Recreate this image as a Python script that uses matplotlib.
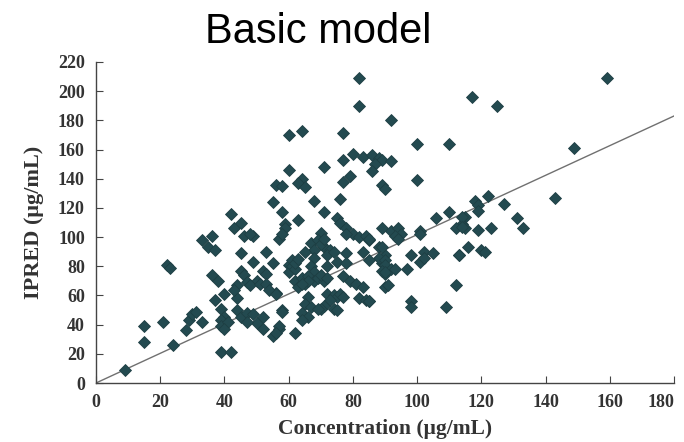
import numpy as np
import matplotlib.pyplot as plt

conc = [9, 15, 15, 21, 22, 23, 24, 28, 29, 30, 31, 33,
        33, 36, 35, 37, 36, 38, 37, 40, 39, 40, 39, 39, 41, 40, 39, 42,
        42, 43, 45, 46, 49, 48, 45, 49, 53, 55,
        45, 46, 44, 47, 50, 52, 53, 44, 43, 48, 51, 53,
        44, 45, 47, 49, 50, 52, 55, 57, 58, 56, 52, 47,
        56, 58, 55, 58, 59, 59, 57, 58, 63, 60, 60, 64, 64, 63, 65, 68, 71, 75, 76, 77, 77,
        71, 79, 77, 76, 80, 83, 86, 88, 89, 87, 92, 86, 82, 82, 92, 100, 100, 89, 90,
        70, 67, 68, 71, 73, 68, 65, 78, 80, 82, 84, 85, 78, 88, 90, 89, 90, 90, 91, 83,
        60, 60, 61, 62, 61, 67, 68, 72, 75, 78, 78,
        62, 64, 66, 68, 63, 65, 69, 71,
        54, 56, 77, 79, 81, 83, 82, 84, 85,
        66, 65, 67, 72, 74, 75, 73, 71, 70, 64, 66, 64, 58, 57, 56, 62,
        69, 74, 75, 76, 77,
        106, 110, 115, 114, 112, 115, 89, 92, 94, 95, 93, 94, 101, 85, 89, 119, 116,
        98, 102, 105, 101, 102, 113, 88, 90, 90, 92, 93, 89, 90, 85, 97, 112,
        98, 98, 109, 85, 101,
        118, 119, 119, 122, 127, 143, 114, 114, 123, 131, 133, 120, 113, 121,
        117, 125, 110, 149, 159,
        62, 63, 69, 70, 71, 66, 70, 72, 64, 72, 74]
ipred = [9, 28, 39, 42, 81, 79, 26, 36, 43, 47, 49, 42,
         98, 101, 93, 91, 74, 70, 57, 61, 51, 45, 43, 39, 42, 37, 21, 21,
         116, 106, 110, 101, 101, 102, 89, 83, 90, 82,
         77, 74, 67, 69, 70, 77, 75, 58, 64, 67, 68, 68,
         50, 45, 48, 47, 41, 37, 32, 37, 50, 62, 45, 42,
         136, 135, 124, 117, 109, 106, 99, 102, 112, 146, 170, 173, 140, 137, 134, 125, 117, 113, 110, 171, 153,
         148, 142, 138, 126, 157, 155, 156, 154, 153, 150, 152, 145, 209, 190, 180, 164, 139, 136, 133,
         103, 96, 91, 93, 91, 86, 90, 106, 102, 100, 101, 98, 102, 93, 88, 82, 75, 66, 67, 90,
         81, 76, 80, 78, 84, 80, 76, 80, 83, 89, 82,
         70, 72, 73, 70, 66, 68, 72, 70,
         64, 61, 73, 70, 68, 66, 58, 57, 56,
         59, 54, 52, 61, 60, 59, 57, 53, 51, 48, 45, 43, 49, 39, 34, 34,
         51, 51, 50, 61, 59,
         113, 117, 114, 109, 106, 106, 106, 104, 106, 102, 101, 99, 104, 99, 93, 105, 93,
         88, 90, 89, 83, 86, 88, 86, 84, 81, 78, 78, 77, 76, 84, 78, 67,
         56, 52, 52, 56, 102,
         125, 122, 118, 128, 123, 127, 114, 107, 106, 113, 106, 91, 88, 90,
         196, 190, 164, 161, 209,
         82, 85, 98, 95, 99, 70, 74, 72, 68, 88, 90]

# reference line
line_x = [0, 180]
line_y = [0, 183]

fig = plt.figure(figsize=(6.84, 4.42), dpi=100)
ax = fig.add_axes([96 / 684, 59 / 442, (674 - 96) / 684, (383 - 62) / 442])

ax.plot(line_x, line_y, color='#707070', lw=1.0, zorder=1)
ax.plot(conc, ipred, 'D', color='#234a50', markersize=5.8, markeredgecolor='#1e3f44',
        markeredgewidth=0.6, zorder=2)

ax.set_xlim(0, 180)
ax.set_ylim(0, 220)
ax.set_xticks(np.arange(0, 181, 20))
ax.set_yticks(np.arange(0, 221, 20))
for s in ['top', 'right']:
    ax.spines[s].set_visible(False)
for s in ['left', 'bottom']:
    ax.spines[s].set_color('#444444')
    ax.spines[s].set_linewidth(1.0)
ax.tick_params(direction='in', length=5, color='#444444', labelsize=13, pad=8)
for lab in ax.get_xticklabels() + ax.get_yticklabels():
    lab.set_fontfamily('Liberation Serif')
    lab.set_fontweight('bold')
    lab.set_color('#333333')
ax.get_xticklabels()[-1].set_ha('right')

ax.set_xlabel('Concentration (\u03bcg/mL)', fontfamily='Liberation Serif', fontweight='bold',
              fontsize=15.5, color='#333333', labelpad=6)
ax.set_ylabel('IPRED (\u03bcg/mL)', fontfamily='Liberation Serif', fontweight='bold',
              fontsize=16, color='#333333', labelpad=10)

fig.text(318 / 684, 1 - 32 / 442, 'Basic model', fontfamily='Liberation Sans', fontsize=30,
         ha='center', va='center', color='black')

fig.savefig('out.png', dpi=100)
